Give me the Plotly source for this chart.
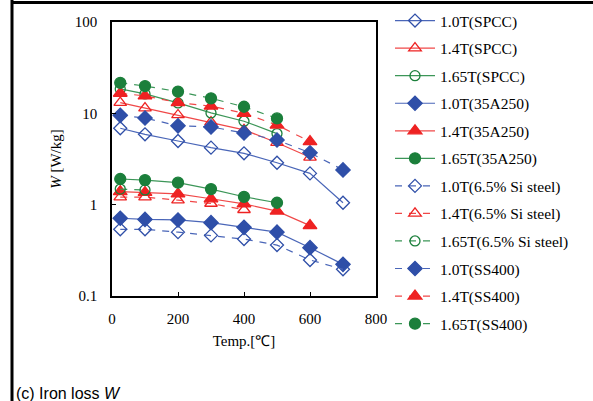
import plotly.graph_objects as go

temps = [25, 100, 200, 300, 400, 500, 600, 700]

# SPCC (open markers, solid lines)
spcc_10 = [6.86, 5.89, 4.98, 4.21, 3.65, 2.88, 2.2, 1.05]
spcc_14 = [13.1, 11.4, 9.6, 8.0, 6.6, 4.77, 3.3]
spcc_165 = [18.5, 16.3, 13.0, 10.1, 8.2, 6.0]
# 35A250 (filled markers, solid lines)
a250_10 = [0.71, 0.69, 0.68, 0.635, 0.565, 0.50, 0.338, 0.222]
a250_14 = [1.39, 1.36, 1.31, 1.16, 1.02, 0.85, 0.59]
a250_165 = [1.91, 1.86, 1.74, 1.48, 1.22, 1.05]
# 6.5% Si steel (open markers, dashed lines)
si_10 = [0.537, 0.537, 0.50, 0.461, 0.42, 0.361, 0.248, 0.196]
si_14 = [1.21, 1.21, 1.12, 1.03, 0.88]
si_165 = [1.48, 1.45]
# SS400 (filled markers, dashed lines)
ss_10 = [9.5, 8.9, 7.3, 7.1, 6.1, 5.1, 3.7, 2.4]
ss_14 = [16.6, 15.5, 13.1, 12.0, 10.0, 7.45, 4.9]
ss_165 = [21.6, 19.9, 17.3, 14.6, 11.8, 8.8]

blue = "#2F4FA8"
red = "#EE2222"
green = "#1B7F3B"
blue_l = "#4A66B8"
red_l = "#F04848"
green_l = "#3C9658"

series = [
    ("1.0T(SPCC)", spcc_10, blue_l, blue, "diamond-open", "solid", 10),
    ("1.4T(SPCC)", spcc_14, red_l, red, "triangle-up-open", "solid", 11),
    ("1.65T(SPCC)", spcc_165, green_l, green, "circle-open", "solid", 10),
    ("1.0T(35A250)", a250_10, blue_l, blue, "diamond", "solid", 11),
    ("1.4T(35A250)", a250_14, red_l, red, "triangle-up", "solid", 12),
    ("1.65T(35A250)", a250_165, green_l, green, "circle", "solid", 11),
    ("1.0T(6.5% Si steel)", si_10, blue_l, blue, "diamond-open", "7px,7px", 10),
    ("1.4T(6.5% Si steel)", si_14, red_l, red, "triangle-up-open", "7px,7px", 11),
    ("1.65T(6.5% Si steel)", si_165, green_l, green, "circle-open", "7px,7px", 10),
    ("1.0T(SS400)", ss_10, blue_l, blue, "diamond", "7px,7px", 11),
    ("1.4T(SS400)", ss_14, red_l, red, "triangle-up", "7px,7px", 12),
    ("1.65T(SS400)", ss_165, green_l, green, "circle", "7px,7px", 11),
]

fig = go.Figure()
for i, (name, vals, lc, mc, sym, dash, sz) in enumerate(series):
    fig.add_trace(go.Scatter(
        x=temps[:len(vals)], y=vals, name=name, mode="lines+markers",
        legendgroup="g%d" % i,
        line=dict(color=lc, width=1.2, dash=dash),
        marker=dict(symbol=sym, size=sz, color=mc, line=dict(color=mc, width=1.3)),
    ))

L, R, T, B = 112, 376, 22, 296
W, H = 593, 401
pw, ph = R - L, B - T

def px(x):
    return (x - L) / pw

def py(y):
    return (B - y) / ph

serif = "Liberation Serif, Times New Roman, serif"

fig.update_layout(
    width=W, height=H,
    margin=dict(l=L, r=W - R, t=T, b=H - B, autoexpand=False),
    paper_bgcolor="white", plot_bgcolor="white",
    font=dict(family=serif, size=15, color="black"),
    showlegend=True,
    legend=dict(x=px(390), y=py(4), xanchor="left", yanchor="top", maxheight=400,
                itemwidth=40,
                font=dict(family=serif, size=15.5, color="black"),
                tracegroupgap=4.4, bgcolor="rgba(0,0,0,0)"),
    xaxis=dict(range=[0, 800], dtick=200, tick0=0, showgrid=False, zeroline=False,
               showline=True, linecolor="black", linewidth=1.5, mirror=True,
               ticks="inside", ticklen=4, tickcolor="black",
               ticklabelstandoff=8,
               title=dict(text="Temp.[℃]", font=dict(family=serif, size=15), standoff=10)),
    yaxis=dict(type="log", range=[-1, 2], showgrid=False, zeroline=False,
               tickvals=[0.1, 1, 10, 100], ticktext=["0.1", "1", "10", "100"],
               showline=True, linecolor="black", linewidth=1.5, mirror=True,
               ticks="inside", ticklen=4, tickcolor="black",
               ticklabelstandoff=10,
               title=dict(text="<i>W</i> [W/kg]", font=dict(family=serif, size=15), standoff=10)),
    shapes=[
        dict(type="line", xref="paper", yref="paper", x0=px(12), x1=px(12), y0=py(0), y1=py(401),
             line=dict(color="black", width=3)),
        dict(type="line", xref="paper", yref="paper", x0=px(11), x1=px(593), y0=py(2.5), y1=py(2.5),
             line=dict(color="black", width=3)),
    ],
    annotations=[
        dict(text="(c) Iron loss <i>W</i>", xref="paper", yref="paper", x=px(14), y=py(383),
             xanchor="left", yanchor="top", showarrow=False,
             font=dict(family="Liberation Sans, Arial, sans-serif", size=16, color="black")),
    ],
)

fig.write_html("out.html", config={"displayModeBar": False},
               post_script="document.body.style.margin='0';document.body.style.overflow='hidden';")
